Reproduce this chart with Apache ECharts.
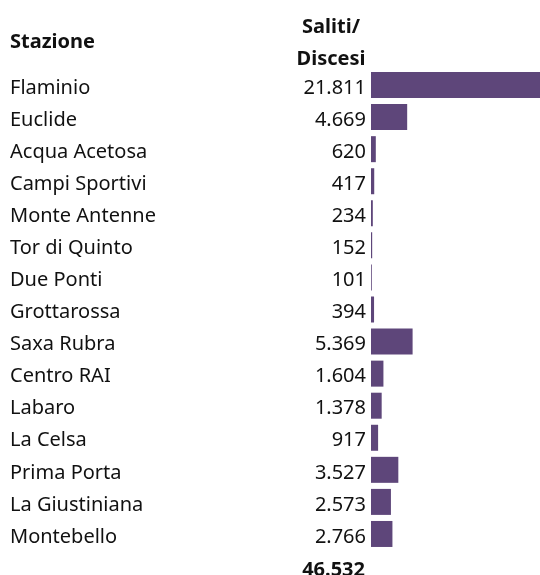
<!DOCTYPE html>
<html>
<head>
<meta charset="utf-8">
<script src="https://cdn.jsdelivr.net/npm/echarts@6/dist/echarts.min.js"></script>
<style>
  html, body { margin: 0; padding: 0; background: #fff; }
  #chart { width: 540px; height: 575px; }
</style>
</head>
<body>
<div id="chart"></div>
<script>
const stations = ['Flaminio', 'Euclide', 'Acqua Acetosa', 'Campi Sportivi', 'Monte Antenne', 'Tor di Quinto', 'Due Ponti', 'Grottarossa', 'Saxa Rubra', 'Centro RAI', 'Labaro', 'La Celsa', 'Prima Porta', 'La Giustiniana', 'Montebello']
const passengers = [21811, 4669, 620, 417, 234, 152, 101, 394, 5369, 1604, 1378, 917, 3527, 2573, 2766]
const headerName = 'Stazione'
const headerValue = ['Saliti/', 'Discesi']

const fmt = v => String(v).replace(/\B(?=(\d{3})+(?!\d))/g, '.')
const total = passengers.reduce((a, b) => a + b, 0)
const font = '"Noto Sans", "Open Sans", sans-serif'

const chart = echarts.init(document.getElementById('chart'))

chart.setOption({
  animation: false,
  grid: { left: 371, right: 0, top: 69, height: 481 },
  xAxis: { type: 'value', min: 0, max: 21811, show: false },
  yAxis: {
    type: 'category',
    inverse: true,
    data: stations,
    axisLine: { show: false },
    axisTick: { show: false },
    axisLabel: {
      margin: 5,
      formatter: (name, i) => '{n|' + name + '}{v|' + fmt(passengers[i]) + '}',
      rich: {
        n: { width: 255, align: 'left', fontSize: 20, fontFamily: font, color: '#111', padding: [6, 0, 0, 0] },
        v: { width: 101, align: 'right', fontSize: 20, fontFamily: font, color: '#111', padding: [6, 0, 0, 0] }
      }
    }
  },
  series: [{
    type: 'bar',
    data: passengers,
    barWidth: 26,
    itemStyle: { color: '#5e467a' }
  }],
  graphic: [
    { type: 'text', left: 10, top: 32, style: { text: headerName, font: 'bold 20px ' + font, fill: '#111' } },
    { type: 'text', x: 331, y: 27, style: { text: headerValue[0], font: 'bold 20px ' + font, fill: '#111', align: 'center', verticalAlign: 'middle' } },
    { type: 'text', x: 331, y: 59, style: { text: headerValue[1], font: 'bold 20px ' + font, fill: '#111', align: 'center', verticalAlign: 'middle' } },
    { type: 'text', x: 365, y: 570, style: { text: fmt(total), font: 'bold 20px ' + font, fill: '#111', align: 'right', verticalAlign: 'middle' } }
  ]
})
</script>
</body>
</html>
